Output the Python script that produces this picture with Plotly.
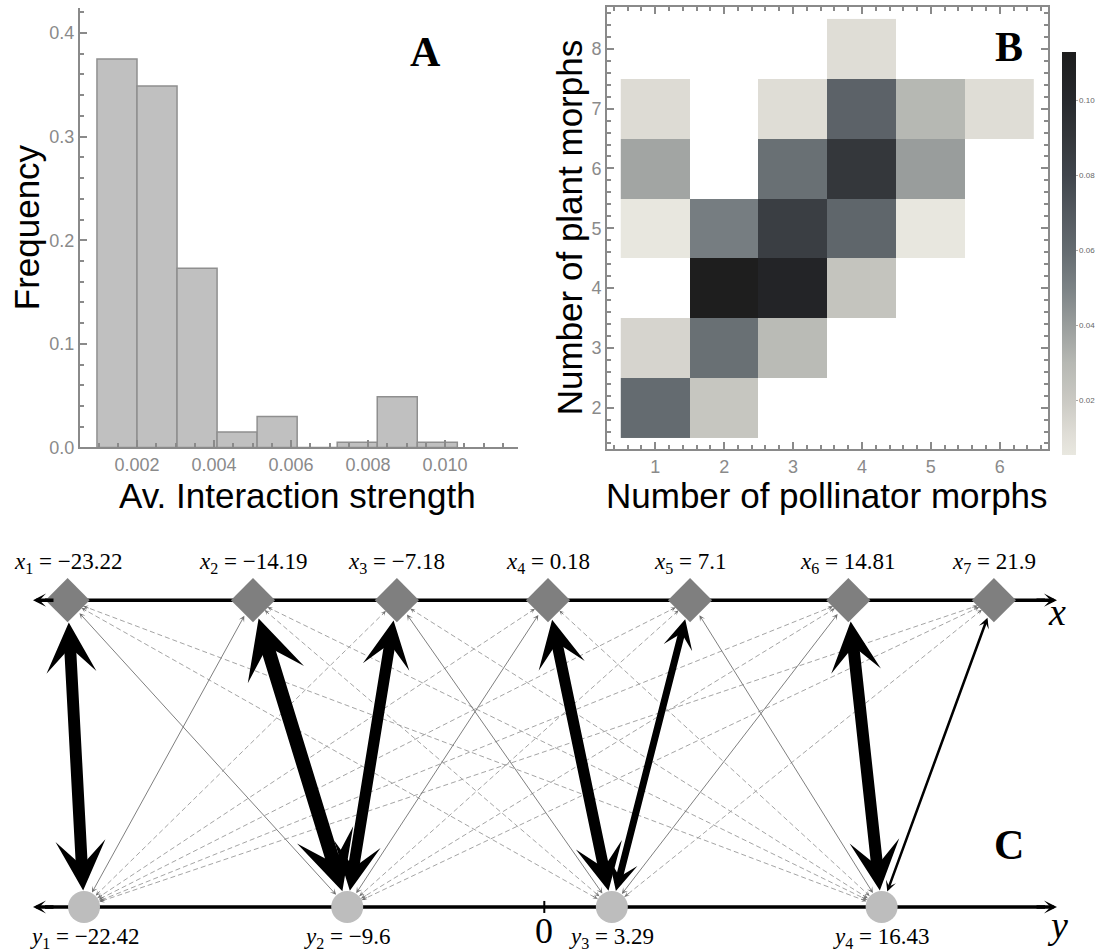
import math
import plotly.graph_objects as go

W, H = 1099, 951          # reference picture size (all positions below are in its pixels)
FIG_H = 962               # drawn height (the capture is squeezed slightly in height)

# ---------------- Panel A : histogram ----------------
hist_bin_start = 0.00096
hist_bin_width = 0.00104
hist_freq = [0.375, 0.349, 0.173, 0.015, 0.030, 0.0, 0.005, 0.049, 0.005]

# ---------------- Panel B : heat map ----------------
pollinator_morphs = [1, 2, 3, 4, 5, 6]
plant_morphs = [2, 3, 4, 5, 6, 7, 8]
strength_plant2 = [0.060, 0.022, None, None, None, None]
strength_plant3 = [0.015, 0.058, 0.028, None, None, None]
strength_plant4 = [None, 0.112, 0.105, 0.023, None, None]
strength_plant5 = [0.006, 0.052, 0.085, 0.063, 0.006, None]
strength_plant6 = [0.037, None, 0.058, 0.090, 0.040, None]
strength_plant7 = [0.012, None, 0.011, 0.065, 0.030, 0.011]
strength_plant8 = [None, None, None, 0.011, None, None]
colorbar_ticks = [0.02, 0.04, 0.06, 0.08, 0.10]
z_min, z_max = 0.0053, 0.1128

# ---------------- Panel C : network ----------------
x_traits = [-23.22, -14.19, -7.18, 0.18, 7.1, 14.81, 21.9]
y_traits = [-22.42, -9.6, 3.29, 16.43]
# relative interaction strength of x_i (rows) with y_j (columns)
link_strength = [
    [0.85, 0.05, 0.01, 0.01],
    [0.05, 1.00, 0.01, 0.01],
    [0.01, 0.80, 0.05, 0.01],
    [0.01, 0.05, 0.80, 0.01],
    [0.01, 0.01, 0.50, 0.05],
    [0.01, 0.01, 0.05, 0.85],
    [0.01, 0.01, 0.01, 0.18],
]

# ---------------- helpers / layout constants ----------------
def fx(px):
    return min(1.0, max(0.0, px / W))


def fy(py):
    return min(1.0, max(0.0, 1 - py / H))


GRAY = "#8a8a8a"
SANS = "Liberation Sans, Arial, sans-serif"
SERIF = "Liberation Serif, Times New Roman, serif"

fig = go.Figure()

# ---- A
A_L, A_R, A_T, A_B = 80, 518, 8, 447
A_PXU = 38500.0  # px per unit on x
A_X0PX = 137     # pixel of 0.002
a_xlo = 0.002 - (A_X0PX - A_L) / A_PXU
a_xhi = 0.002 + (A_R - A_X0PX) / A_PXU
a_yhi = (A_B - A_T) / 1035.0

centers = [hist_bin_start + (k + 0.5) * hist_bin_width for k in range(len(hist_freq))]
fig.add_trace(go.Bar(
    x=centers, y=hist_freq, width=hist_bin_width,
    marker=dict(color="#c0c0c0", line=dict(color="#8f8f8f", width=1.5)),
    xaxis="x", yaxis="y", showlegend=False, hoverinfo="skip"))

# ---- B
z_rows = [strength_plant2, strength_plant3, strength_plant4, strength_plant5,
          strength_plant6, strength_plant7, strength_plant8]
stops = [(0.0053, "#e9e8e0"), (0.011, "#dfddd6"), (0.02, "#cac9c3"),
         (0.03, "#b6b8b3"), (0.04, "#999d9c"), (0.05, "#7b8285"),
         (0.06, "#646b70"), (0.07, "#53595f"), (0.08, "#40454c"),
         (0.09, "#34373b"), (0.10, "#27292d"), (0.1128, "#1d1d1d")]
cscale = [[(v - z_min) / (z_max - z_min), c] for v, c in stops]
cscale[0][0] = 0.0
cscale[-1][0] = 1.0

B_L, B_R, B_T, B_B = 607, 1048, 7, 449
CB_T, CB_B = 52, 455
fig.add_trace(go.Heatmap(
    x=pollinator_morphs, y=plant_morphs, z=z_rows,
    zmin=z_min, zmax=z_max, colorscale=cscale,
    xaxis="x2", yaxis="y2", hoverongaps=False,
    colorbar=dict(
        x=fx(1062), xanchor="left", y=fy((CB_T + CB_B) / 2), yanchor="middle",
        len=(CB_B - CB_T) / H, lenmode="fraction", thickness=14,
        xpad=0, ypad=0, outlinewidth=0,
        tickvals=colorbar_ticks, ticktext=["%.2f" % v for v in colorbar_ticks],
        ticks="outside", ticklen=2, tickcolor="#aaaaaa",
        tickfont=dict(size=8, color="#666666", family=SANS))))

# ---- C
PXU = 20.53       # pixels per trait unit
ZERO_PX = 544.3   # pixel of trait value 0
TOP_PY, BOT_PY = 599.5, 906.0
ROW_PX = BOT_PY - TOP_PY
C_DOM_TOP = 0.44
c_top_px = H * (1 - C_DOM_TOP)
c_xlo = -ZERO_PX / PXU
c_xhi = (W - ZERO_PX) / PXU
c_ylo = -(H - BOT_PY) / ROW_PX
c_yhi = 1 + (TOP_PY - c_top_px) / ROW_PX

DIAM_HALF = 22.0
CIRC_R = 16.5

annotations = []
shapes = []

weak_x, weak_y = [], []
for i, xv in enumerate(x_traits):
    for j, yv in enumerate(y_traits):
        s = link_strength[i][j]
        dx = (xv - yv) * PXU
        dy = TOP_PY - BOT_PY
        L = math.hypot(dx, dy)
        ux, uy = dx / L, dy / L
        so_top = DIAM_HALF / (abs(ux) + abs(uy))
        so_bot = CIRC_R
        if s >= 0.15:
            w = 14 * s
            annotations.append(dict(
                x=yv, y=0, xref="x3", yref="y3", ax=xv, ay=1, axref="x3", ayref="y3",
                text="", showarrow=True, arrowside="end+start",
                arrowhead=3, startarrowhead=3, arrowsize=0.7, startarrowsize=0.7,
                arrowwidth=w, arrowcolor="black",
                standoff=so_bot, startstandoff=so_top))
        elif s >= 0.03:
            annotations.append(dict(
                x=yv, y=0, xref="x3", yref="y3", ax=xv, ay=1, axref="x3", ayref="y3",
                text="", showarrow=True, arrowside="end+start",
                arrowhead=3, startarrowhead=3, arrowsize=1.1, startarrowsize=1.1,
                arrowwidth=0.9, arrowcolor="#707070",
                standoff=so_bot, startstandoff=so_top))
        else:
            weak_x += [xv, yv, None]
            weak_y += [1, 0, None]
            for (hx, hy, sgn, so) in ((yv, 0, 1, so_bot), (xv, 1, -1, so_top)):
                Ls = so + 7
                annotations.append(dict(
                    x=hx, y=hy, xref="x3", yref="y3",
                    ax=sgn * ux * Ls, ay=sgn * uy * Ls,
                    text="", showarrow=True, arrowhead=3, arrowsize=1.0,
                    arrowwidth=0.8, arrowcolor="#707070", standoff=so))

fig.add_trace(go.Scatter(
    x=weak_x, y=weak_y, mode="lines", xaxis="x3", yaxis="y3",
    line=dict(color="#9a9a9a", width=0.9, dash="5px,3px"),
    showlegend=False, hoverinfo="skip"))

fig.add_trace(go.Scatter(
    x=x_traits, y=[1] * len(x_traits), mode="markers", xaxis="x3", yaxis="y3",
    marker=dict(symbol="diamond", size=34, color="#7f7f7f", line=dict(width=0)),
    showlegend=False, hoverinfo="skip"))
fig.add_trace(go.Scatter(
    x=y_traits, y=[0] * len(y_traits), mode="markers", xaxis="x3", yaxis="y3",
    marker=dict(symbol="circle", size=32, color="#bdbdbd", line=dict(width=0)),
    showlegend=False, hoverinfo="skip"))

# axis lines of panel C (below the nodes)
for row in (1, 0):
    shapes.append(dict(type="line", xref="paper", yref="y3",
                       x0=fx(45), x1=fx(1045), y0=row, y1=row,
                       line=dict(color="black", width=3.5), layer="below"))
    for tip, off in ((1057, -22), (33, 22)):
        annotations.append(dict(
            x=fx(tip), y=row, xref="paper", yref="y3", ax=off, ay=0,
            text="", showarrow=True, arrowhead=3, arrowsize=0.62,
            arrowwidth=3.5, arrowcolor="black"))
# tick at zero
shapes.append(dict(type="line", xref="x3", yref="paper", x0=0, x1=0,
                   y0=fy(900), y1=fy(912), line=dict(color="black", width=2)))


def minus(v):
    return str(v).replace("-", "\u2212")


for i, xv in enumerate(x_traits):
    annotations.append(dict(
        x=xv, y=fy(562), xref="x3", yref="paper", showarrow=False,
        text="<i>x</i><sub>%d</sub> = %s" % (i + 1, minus(xv)),
        font=dict(family=SERIF, size=23, color="black"),
        xanchor="center", yanchor="middle"))
for j, yv in enumerate(y_traits):
    annotations.append(dict(
        x=yv, y=fy(937), xref="x3", yref="paper", showarrow=False,
        text="<i>y</i><sub>%d</sub> = %s" % (j + 1, minus(yv)),
        font=dict(family=SERIF, size=23, color="black"),
        xanchor="center", yanchor="middle"))

annotations.append(dict(x=0, y=fy(930), xref="x3", yref="paper", showarrow=False,
                        text="0", font=dict(family=SERIF, size=36, color="black"),
                        xanchor="center", yanchor="middle"))


def paper_text(px, py, text, size, family, angle=0):
    annotations.append(dict(x=fx(px), y=fy(py), xref="paper", yref="paper",
                            showarrow=False, text=text, textangle=angle,
                            font=dict(family=family, size=size, color="black"),
                            xanchor="center", yanchor="middle"))


paper_text(1057, 611, "<i>x</i>", 38, SERIF)
paper_text(1057, 924, "<i>y</i>", 38, SERIF)
paper_text(1009, 844, "<b>C</b>", 42, SERIF)
paper_text(425, 52, "<b>A</b>", 42, SERIF)
paper_text(1009, 47, "<b>B</b>", 42, SERIF)

paper_text(297, 495, "Av. Interaction strength", 35, SANS)
paper_text(26, 227, "Frequency", 35, SANS, -90)
paper_text(827, 495, "Number of pollinator morphs", 35, SANS)
paper_text(569, 228, "Number of plant morphs", 35, SANS, -90)

tickfont = dict(family=SANS, size=18, color=GRAY)
common = dict(showgrid=False, zeroline=False, showline=True, linecolor=GRAY,
              linewidth=2, ticks="inside", tickcolor=GRAY, tickwidth=1.5,
              tickfont=tickfont)

fig.update_layout(
    width=W, height=FIG_H, margin=dict(l=0, r=0, t=0, b=0),
    paper_bgcolor="white", plot_bgcolor="white", showlegend=False,
    xaxis=dict(domain=[fx(A_L), fx(A_R)], range=[a_xlo, a_xhi], anchor="y",
               tick0=0.002, dtick=0.002, tickformat=".3f", ticklen=7,
               minor=dict(dtick=0.0005, tick0=0, ticklen=4, ticks="inside",
                          tickcolor=GRAY), **common),
    yaxis=dict(domain=[fy(A_B), fy(A_T)], range=[0, a_yhi], anchor="x",
               tick0=0, dtick=0.1, tickformat=".1f", ticklen=7,
               minor=dict(dtick=0.02, tick0=0, ticklen=4, ticks="inside",
                          tickcolor=GRAY), **common),
    xaxis2=dict(domain=[fx(B_L), fx(B_R)], range=[0.3, 6.7], anchor="y2",
                tick0=1, dtick=1, ticklen=7, mirror="allticks",
                minor=dict(dtick=0.2, tick0=0, ticklen=4, ticks="inside",
                           tickcolor=GRAY), **common),
    yaxis2=dict(domain=[fy(B_B), fy(B_T)], range=[1.3, 8.7], anchor="x2",
                tick0=1, dtick=1, ticklen=7, mirror="allticks",
                minor=dict(dtick=0.2, tick0=0, ticklen=4, ticks="inside",
                           tickcolor=GRAY), **common),
    xaxis3=dict(domain=[0, 1], range=[c_xlo, c_xhi], anchor="y3", visible=False,
                fixedrange=True),
    yaxis3=dict(domain=[0, C_DOM_TOP], range=[c_ylo, c_yhi], anchor="x3",
                visible=False, fixedrange=True),
    annotations=annotations, shapes=shapes,
)

# remove the browser's default 8 px page margin so the figure fills the window
fig.write_html("out.html",
               config={"displayModeBar": False},
               post_script="document.body.style.margin='0px';"
                           "document.body.style.overflow='hidden';")
